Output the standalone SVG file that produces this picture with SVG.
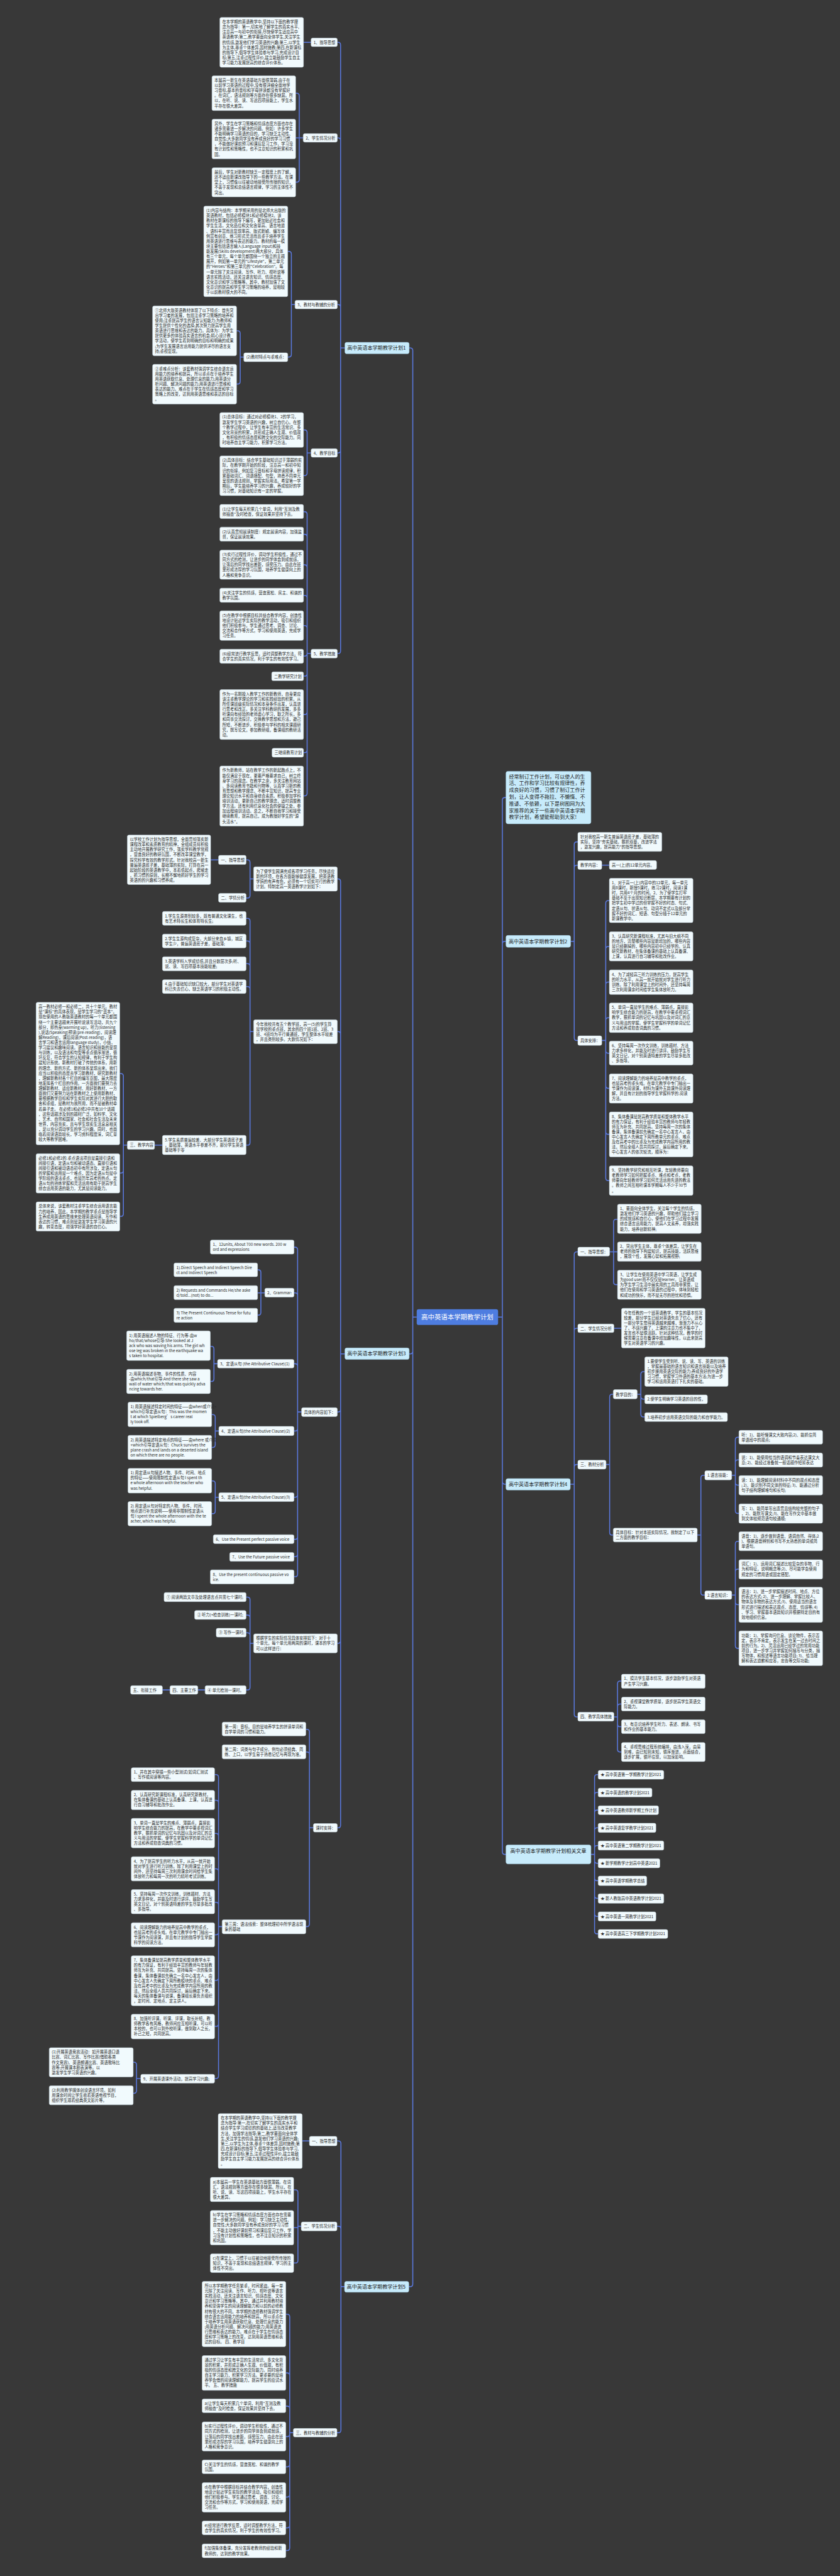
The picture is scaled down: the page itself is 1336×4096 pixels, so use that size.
<svg xmlns="http://www.w3.org/2000/svg" width="1336" height="4096" viewBox="0 0 1336 4096">
<style>
.bx{fill:#f1fafd;stroke:#c4d5df;stroke-width:1}
.mn{fill:#c7ebfb;stroke:#a6d3ea;stroke-width:1}
.ct{fill:#4e7de0}
.t{font-family:"Noto Sans CJK SC","Noto Sans",sans-serif;font-size:12px;fill:#2b2b2b}
.tm{font-family:"Noto Sans CJK SC","Noto Sans",sans-serif;font-size:15.5px;fill:#222}
.tc{font-family:"Noto Sans CJK SC","Noto Sans",sans-serif;font-size:20px;fill:#fff}
.ln{fill:none;stroke:#5a78dc;stroke-width:3}
</style>
<rect width="1336" height="4096" fill="#383838"/>
<g transform="scale(0.521875)">
<g id="connectors" class="ln">
<path d="M1270 4013H1258V1068Q1258 1060 1250 1060H1247M1270 4013H1258V4117Q1258 4125 1250 4125H1247M1270 4013H1258V6959Q1258 6967 1250 6967H1246"/>
<path d="M1518 4013H1531V2438Q1531 2430 1539 2430H1542M1518 4013H1531V2876Q1531 2868 1539 2868H1542M1518 4013H1531V4514Q1531 4522 1539 4522H1542M1518 4013H1531V5642Q1531 5650 1539 5650H1542"/>
<path d="M1051 1060H1038V137Q1038 129 1030 129H1028M1051 1060H1038V428Q1038 420 1030 420H1028M1051 1060H1038V936Q1038 928 1030 928H1028M1051 1060H1038V1372Q1038 1380 1030 1380H1028M1051 1060H1038V1983Q1038 1991 1030 1991H1028"/>
<path d="M948 129H925"/>
<path d="M924 420H912V292Q912 284 904 284H901M924 420H901M924 420H912V547Q912 555 904 555H901"/>
<path d="M899 928H888V774Q888 766 880 766H877M899 928H888V1080Q888 1088 880 1088H877"/>
<path d="M743 1088H732V1016Q732 1008 724 1008H721M743 1088H732V1162Q732 1170 724 1170H721"/>
<path d="M948 1380H936V1318Q936 1310 928 1310H925M948 1380H936V1441Q936 1449 928 1449H925"/>
<path d="M948 1991H936V1567Q936 1559 928 1559H925M948 1991H936V1636Q936 1628 928 1628H925M948 1991H936V1729Q936 1721 928 1721H925M948 1991H936V1822Q936 1814 928 1814H925M948 1991H936V1914Q936 1906 928 1906H925M948 1991H936V1991Q936 1999 928 1999H925M948 1991H936V2052Q936 2060 928 2060H925M948 1991H936V2169Q936 2177 928 2177H925M948 1991H936V2285Q936 2293 928 2293H925M948 1991H936V2417Q936 2425 928 2425H925"/>
<path d="M1051 4125H1038V2686Q1038 2678 1030 2678H1028M1051 4125H1038V3151Q1038 3143 1030 3143H1028M1051 4125H1038V4294Q1038 4302 1030 4302H1028M1051 4125H1038V4999Q1038 5007 1030 5007H1028M1051 4125H1038V5561Q1038 5569 1030 5569H1028"/>
<path d="M773 2678H762V2628Q762 2620 754 2620H750M773 2678H762V2728Q762 2736 754 2736H750"/>
<path d="M666 2620H642"/>
<path d="M773 3143H762V2806Q762 2798 754 2798H750M773 3143H762V2875Q762 2867 754 2867H750M773 3143H762V2944Q762 2936 754 2936H750M773 3143H762V3014Q762 3006 754 3006H750M773 3143H762V3481Q762 3489 754 3489H750"/>
<path d="M495 3489H471"/>
<path d="M388 3489H376V3279Q376 3271 368 3271H365M388 3489H376V3566Q376 3574 368 3574H365M388 3489H376V3698Q376 3706 368 3706H365"/>
<path d="M919 4302H907V3808Q907 3800 899 3800H896M919 4302H907V3947Q907 3939 899 3939H896M919 4302H907V4163Q907 4155 899 4155H896M919 4302H907V4352Q907 4360 899 4360H896M919 4302H907V4554Q907 4562 899 4562H896M919 4302H907V4682Q907 4690 899 4690H896M919 4302H907V4735Q907 4743 899 4743H896M919 4302H907V4796Q907 4804 899 4804H896"/>
<path d="M807 3939H795V3877Q795 3869 787 3869H785M807 3939H785M807 3939H795V3999Q795 4007 787 4007H785"/>
<path d="M663 4155H652V4110Q652 4102 644 4102H641M663 4155H652V4201Q652 4209 644 4209H641"/>
<path d="M667 4360H656V4318Q656 4310 648 4310H645M667 4360H656V4402Q656 4410 648 4410H645"/>
<path d="M667 4562H656V4520Q656 4512 648 4512H645M667 4562H656V4604Q656 4612 648 4612H645"/>
<path d="M773 5007H762V4874Q762 4866 754 4866H750M773 5007H762V4929Q762 4921 754 4921H750M773 5007H762V4983Q762 4975 754 4975H750M773 5007H762V5141Q762 5149 754 5149H750"/>
<path d="M625 5149H603M518 5149H495"/>
<path d="M955 5569H943V5277Q943 5269 935 5269H932M955 5569H943V5346Q943 5338 935 5338H932M955 5569H943V5862Q943 5870 935 5870H932"/>
<path d="M677 5870H666V5415Q666 5407 658 5407H654M677 5870H666V5493Q666 5485 658 5485H654M677 5870H666V5594Q666 5586 658 5586H654M677 5870H666V5702Q666 5694 658 5694H654M677 5870H666V5804Q666 5796 658 5796H654M677 5870H666V5887Q666 5895 658 5895H654M677 5870H666V6026Q666 6034 658 6034H654M677 5870H666V6166Q666 6174 658 6174H654M677 5870H666V6325Q666 6333 658 6333H654"/>
<path d="M429 6333H416V6291Q416 6283 408 6283H406M429 6333H416V6370Q416 6378 408 6378H406"/>
<path d="M1050 6967H1039V6531Q1039 6523 1031 6523H1027M1050 6967H1039V6791Q1039 6783 1031 6783H1027M1050 6967H1039V7404Q1039 7412 1031 7412H1027"/>
<path d="M943 6523H921"/>
<path d="M918 6783H908V6680Q908 6672 900 6672H895M918 6783H908V6787H895M918 6783H908V6887Q908 6895 900 6895H895"/>
<path d="M894 7412H883V7059Q883 7051 875 7051H871M894 7412H883V7238Q883 7230 875 7230H871M894 7412H883V7339Q883 7331 875 7331H871M894 7412H883V7416Q883 7424 875 7424H871M894 7412H883V7508Q883 7516 875 7516H871M894 7412H883V7600Q883 7608 875 7608H871M894 7412H883V7694Q883 7702 875 7702H871M894 7412H883V7763Q883 7771 875 7771H871"/>
<path d="M1739 2868H1750V2573Q1750 2565 1758 2565H1761M1739 2868H1750V2644Q1750 2636 1758 2636H1761M1739 2868H1750V3162Q1750 3170 1758 3170H1761"/>
<path d="M1834 2636H1857"/>
<path d="M1834 3170H1846V2752Q1846 2744 1854 2744H1857M1834 3170H1846V2892Q1846 2884 1854 2884H1857M1834 3170H1846V3000Q1846 2992 1854 2992H1857M1834 3170H1846V3109Q1846 3101 1854 3101H1857M1834 3170H1846V3201Q1846 3209 1854 3209H1857M1834 3170H1846V3308Q1846 3316 1854 3316H1857M1834 3170H1846V3448Q1846 3456 1854 3456H1857M1834 3170H1846V3589Q1846 3597 1854 3597H1857"/>
<path d="M1738 4522H1750V3822Q1750 3814 1758 3814H1761M1738 4522H1750V4055Q1750 4047 1758 4047H1761M1738 4522H1750V4470Q1750 4462 1758 4462H1761M1738 4522H1750V5223Q1750 5231 1758 5231H1761"/>
<path d="M1858 3814H1870V3723Q1870 3715 1878 3715H1882M1858 3814H1882M1858 3814H1870V3906Q1870 3914 1878 3914H1882"/>
<path d="M1871 4047H1894"/>
<path d="M1847 4462H1858V4256Q1858 4248 1866 4248H1869M1847 4462H1858V4669Q1858 4677 1866 4677H1869"/>
<path d="M1942 4248H1953V4187Q1953 4179 1961 4179H1965M1942 4248H1953V4255Q1953 4263 1961 4263H1965M1942 4248H1953V4309Q1953 4317 1961 4317H1965"/>
<path d="M2125 4677H2136V4503Q2136 4495 2144 4495H2148M2125 4677H2136V4852Q2136 4860 2144 4860H2148"/>
<path d="M2230 4495H2241V4387Q2241 4379 2249 4379H2252M2230 4495H2241V4456Q2241 4448 2249 4448H2252M2230 4495H2241V4517Q2241 4525 2249 4525H2252M2230 4495H2241V4603Q2241 4611 2249 4611H2252"/>
<path d="M2230 4860H2241V4704Q2241 4696 2249 4696H2252M2230 4860H2241V4789Q2241 4781 2249 4781H2252M2230 4860H2241V4881Q2241 4889 2249 4889H2252M2230 4860H2241V5014Q2241 5022 2249 5022H2252"/>
<path d="M1871 5231H1882V5130Q1882 5122 1890 5122H1894M1871 5231H1882V5200Q1882 5192 1890 5192H1894M1871 5231H1882V5253Q1882 5261 1890 5261H1894M1871 5231H1882V5330Q1882 5338 1890 5338H1894"/>
<path d="M1801 5650H1812V5415Q1812 5407 1820 5407H1823M1801 5650H1812V5469Q1812 5461 1820 5461H1823M1801 5650H1812V5523Q1812 5515 1820 5515H1823M1801 5650H1812V5577Q1812 5569 1820 5569H1823M1801 5650H1812V5631Q1812 5623 1820 5623H1823M1801 5650H1812V5669Q1812 5677 1820 5677H1823M1801 5650H1812V5722Q1812 5730 1820 5730H1823M1801 5650H1812V5776Q1812 5784 1820 5784H1823M1801 5650H1812V5831Q1812 5839 1820 5839H1823M1801 5650H1812V5884Q1812 5892 1820 5892H1823"/>
</g>

<g id="center"><rect class="ct" x="1270" y="3989" width="248" height="48" rx="6"/><text class="tc" x="1284" y="4020">高中英语本学期教学计划</text></g>

<g id="intro"><rect class="mn" x="1542" y="2350" width="259" height="160" rx="6"/><text class="tm" x="1551" y="2371.5"><tspan x="1551">经常制订工作计划，可以使人的生</tspan><tspan x="1551" dy="20.7">活、工作和学习比较有规律性，养</tspan><tspan x="1551" dy="20.7">成良好的习惯，习惯了制订工作计</tspan><tspan x="1551" dy="20.7">划，让人变得不拖拉、不懒惰、不</tspan><tspan x="1551" dy="20.7">推诿、不依赖，以下是树图网为大</tspan><tspan x="1551" dy="20.7">家推荐的关于一些高中英语本学期</tspan><tspan x="1551" dy="20.7">教学计划，希望能帮助到大家!</tspan></text></g>

<!-- plan 1 -->
<g id="plan1"><rect class="mn" x="1051" y="1043" width="196" height="35" rx="6"/><text class="tm" x="1058" y="1066">高中英语本学期教学计划1</text></g>
<g id="p1-l1"><rect class="bx" x="948" y="116" width="80" height="26" rx="5"/><text class="t" x="955.5" y="134">1、指导思想</text></g>
<g id="p1-b1"><rect class="bx" x="670" y="53" width="255" height="152" rx="5"/><text class="t" y="71"><tspan x="677.5">在本学期的英语教学中,坚持以下面的教学理</tspan><tspan x="677.5" dy="15.55">念为指导：第一,切实地了解学生的真实水平,</tspan><tspan x="677.5" dy="15.55">注意高一与初中的衔接,尽快使学生适应高中</tspan><tspan x="677.5" dy="15.55">英语教学;第二,教学要面向全体学生,关注学生</tspan><tspan x="677.5" dy="15.55">的情感,激发他们学习英语的兴趣;第三,以学生</tspan><tspan x="677.5" dy="15.55">为主体,尊重个体差异,因材施教;第四,在新课标</tspan><tspan x="677.5" dy="15.55">的指导下,倡导学生体验参与学习,完成设计目</tspan><tspan x="677.5" dy="15.55">标;第五,注重过程性评价,建立能鼓励学生自主</tspan><tspan x="677.5" dy="15.55">学习能力发展提高的综合评价体系。</tspan></text></g>
<g id="p1-l2"><rect class="bx" x="924" y="407" width="104" height="26" rx="5"/><text class="t" x="931.5" y="425">2、学生情况分析</text></g>
<g id="p1-b2a"><rect class="bx" x="646" y="231" width="255" height="106" rx="5"/><text class="t" y="249"><tspan x="653.5">本届高一新生在英语基础方面很薄弱,由于在</tspan><tspan x="653.5" dy="15.55">以前学习英语的过程中,没有很详细全面地学</tspan><tspan x="653.5" dy="15.55">习音标,基本的音标和字母拼读都没有掌握好</tspan><tspan x="653.5" dy="15.55">。在词汇，语法规则等方面存在很多缺漏。所</tspan><tspan x="653.5" dy="15.55">以，在听、说、读、写这四项技能上，学生水</tspan><tspan x="653.5" dy="15.55">平存在很大差异。</tspan></text></g>
<g id="p1-b2b"><rect class="bx" x="646" y="363" width="255" height="121" rx="5"/><text class="t" y="381"><tspan x="653.5">另外，学生在学习策略和情感态度方面也存在</tspan><tspan x="653.5" dy="15.55">诸多需要进一步解决的问题。例如：许多学生</tspan><tspan x="653.5" dy="15.55">不能明确学习英语的目的，学习缺乏主动性、</tspan><tspan x="653.5" dy="15.55">自觉性;大多数同学没有养成良好的学习习惯</tspan><tspan x="653.5" dy="15.55">，不能做好课前预习和课后复习工作，学习没</tspan><tspan x="653.5" dy="15.55">有计划性和策略性，也不注意知识的积累和巩</tspan><tspan x="653.5" dy="15.55">固。</tspan></text></g>
<g id="p1-b2c"><rect class="bx" x="646" y="511" width="255" height="89" rx="5"/><text class="t" y="529"><tspan x="653.5">最后，学生对新教材缺乏一定程度上的了解，</tspan><tspan x="653.5" dy="15.55">还不适应新课改指导下的一些教学方法。在课</tspan><tspan x="653.5" dy="15.55">堂上，习惯像以往被动地接受所传授的知识，</tspan><tspan x="653.5" dy="15.55">不善于发现和总结语言规律，学习的主体性不</tspan><tspan x="653.5" dy="15.55">突出。</tspan></text></g>
<g id="p1-l3"><rect class="bx" x="899" y="915" width="129" height="26" rx="5"/><text class="t" x="906.5" y="933">3、教材与教辅的分析</text></g>
<g id="p1-b3a"><rect class="bx" x="621" y="628" width="256" height="276" rx="5"/><text class="t" y="646"><tspan x="628.5">(1)内容与结构：本学期采用的是北师大出版的</tspan><tspan x="628.5" dy="15.55">英语教材，包括必修模块1和必修模块2。该</tspan><tspan x="628.5" dy="15.55">教材在新课标的指导下编写，更加贴近社会和</tspan><tspan x="628.5" dy="15.55">学生生活，文化品位和文化含量高、语言地道</tspan><tspan x="628.5" dy="15.55">、语料丰富而且复现率高、版式新颖、编写体</tspan><tspan x="628.5" dy="15.55">例富有创意、练习形式灵活而且重于培养学生</tspan><tspan x="628.5" dy="15.55">用英语进行思维与表达的能力。教材的每一模</tspan><tspan x="628.5" dy="15.55">块主要包括语言输入(Language input)和技</tspan><tspan x="628.5" dy="15.55">能发展(Skills development)两大部分，具体</tspan><tspan x="628.5" dy="15.55">有三个单元，每个单元都围绕一个独立的主题</tspan><tspan x="628.5" dy="15.55">展开，例如第一单元的"Lifestyle"，第二单元</tspan><tspan x="628.5" dy="15.55">的"Heroes"和第三单元的"Celebration"。每</tspan><tspan x="628.5" dy="15.55">一单元除了关注阅读、写作、听力、视听说等</tspan><tspan x="628.5" dy="15.55">语言实践活动，还关注语言知识、情感态度、</tspan><tspan x="628.5" dy="15.55">文化意识和学习策略等。其中，教材加强了文</tspan><tspan x="628.5" dy="15.55">化意识的提高和学生学习策略的培养，是相较</tspan><tspan x="628.5" dy="15.55">于以前教材很大的不同。</tspan></text></g>
<g id="p1-l3b"><rect class="bx" x="743" y="1075" width="134" height="27" rx="5"/><text class="t" x="750.5" y="1093">(2)教材特点与重难点：</text></g>
<g id="p1-b3b"><rect class="bx" x="465" y="932" width="256" height="152" rx="5"/><text class="t" y="950"><tspan x="472.5">①北师大版英语教材体现了以下特点：首先突</tspan><tspan x="472.5" dy="15.55">出学习者的发展，包括注重学习策略的培养和</tspan><tspan x="472.5" dy="15.55">使用;注重提高学生的语言认知能力;为教师和</tspan><tspan x="472.5" dy="15.55">学生提供个性化的选择;其次努力提高学生用</tspan><tspan x="472.5" dy="15.55">英语进行思维和表达的能力。具体为：为学生</tspan><tspan x="472.5" dy="15.55">提供更多的体验真实语言的机会;精心设计教</tspan><tspan x="472.5" dy="15.55">学活动，使学生看到明确的目标和明确的成果</tspan><tspan x="472.5" dy="15.55">;为学生发展语言运用能力提供详尽的语言支</tspan><tspan x="472.5" dy="15.55">持;重视复现。</tspan></text></g>
<g id="p1-b3c"><rect class="bx" x="465" y="1110" width="256" height="121" rx="5"/><text class="t" y="1128"><tspan x="472.5">②重难点分析：该套教材强调学生综合语言运</tspan><tspan x="472.5" dy="15.55">用能力的培养和提高，所以重点在于培养学生</tspan><tspan x="472.5" dy="15.55">用英语获取信息、处理信息的能力;用英语分</tspan><tspan x="472.5" dy="15.55">析问题、解决问题的能力;用英语进行思维和</tspan><tspan x="472.5" dy="15.55">表达的能力。难点在于学生在情感态度和学习</tspan><tspan x="472.5" dy="15.55">策略上的改变，达到用英语思维和表达的目标</tspan><tspan x="472.5" dy="15.55">。</tspan></text></g>
<g id="p1-l4"><rect class="bx" x="948" y="1367" width="80" height="26" rx="5"/><text class="t" x="955.5" y="1385">4、教学目标</text></g>
<g id="p1-b4a"><rect class="bx" x="670" y="1257" width="255" height="106" rx="5"/><text class="t" y="1275"><tspan x="677.5">(1)总体目标：通过对必修模块1、2的学习，</tspan><tspan x="677.5" dy="15.55">激发学生学习英语的兴趣，树立自信心。在整</tspan><tspan x="677.5" dy="15.55">个教学过程中，让学生有丰富的生活常识、多</tspan><tspan x="677.5" dy="15.55">文化背景的积累，并形成正确人生观、价值观</tspan><tspan x="677.5" dy="15.55">，有积极的情感态度和跨文化的交际能力。同</tspan><tspan x="677.5" dy="15.55">时培养自主学习能力，积累学习方法。</tspan></text></g>
<g id="p1-b4b"><rect class="bx" x="670" y="1389" width="255" height="121" rx="5"/><text class="t" y="1407"><tspan x="677.5">(2)具体目标：结合学生基础知识过于薄弱的实</tspan><tspan x="677.5" dy="15.55">际，在教学刚开始的阶段，注意高一和初中知</tspan><tspan x="677.5" dy="15.55">识的衔接，例如复习音标和字母拼读规律，积</tspan><tspan x="677.5" dy="15.55">累基础词汇、词语搭配、句型，熟悉不同单元</tspan><tspan x="677.5" dy="15.55">呈现的语法规则，掌握实际用法。希望第一学</tspan><tspan x="677.5" dy="15.55">期后，学生能培养学习的兴趣，养成较好的学</tspan><tspan x="677.5" dy="15.55">习习惯，对基础知识有一定的掌握。</tspan></text></g>
<g id="p1-l5"><rect class="bx" x="948" y="1978" width="80" height="27" rx="5"/><text class="t" x="955.5" y="1996">5、教学措施</text></g>
<g id="p1-b5a"><rect class="bx" x="670" y="1537" width="255" height="43" rx="5"/><text class="t" y="1555"><tspan x="677.5">(1)让学生每天积累几个单词，利用"互测及教</tspan><tspan x="677.5" dy="15.55">师抽查"及时检查，保证效果并坚持下去。</tspan></text></g>
<g id="p1-b5b"><rect class="bx" x="670" y="1606" width="255" height="43" rx="5"/><text class="t" y="1624"><tspan x="677.5">(2)认真贯彻晨读制度：规定晨读内容，加强监</tspan><tspan x="677.5" dy="15.55">督，保证晨读效果。</tspan></text></g>
<g id="p1-b5c"><rect class="bx" x="670" y="1676" width="255" height="89" rx="5"/><text class="t" y="1694"><tspan x="677.5">(3)实行过程性评价，调动学生积极性，通过不</tspan><tspan x="677.5" dy="15.55">同方式的检测，让进步的同学体会到成就感，</tspan><tspan x="677.5" dy="15.55">让落后的同学找出差距，感受压力。由此在班</tspan><tspan x="677.5" dy="15.55">里形成浓厚的学习氛围，培养学生健康向上的</tspan><tspan x="677.5" dy="15.55">人格和竞争意识。</tspan></text></g>
<g id="p1-b5d"><rect class="bx" x="670" y="1792" width="255" height="43" rx="5"/><text class="t" y="1810"><tspan x="677.5">(4)关注学生的情感，营造宽松、民主、和谐的</tspan><tspan x="677.5" dy="15.55">教学氛围。</tspan></text></g>
<g id="p1-b5e"><rect class="bx" x="670" y="1861" width="255" height="90" rx="5"/><text class="t" y="1879"><tspan x="677.5">(5)在教学中根据目标并结合教学内容，创造性</tspan><tspan x="677.5" dy="15.55">地设计贴近学生实际的教学活动，吸引和组织</tspan><tspan x="677.5" dy="15.55">他们积极参与。学生通过思考、调查、讨论、</tspan><tspan x="677.5" dy="15.55">交流和合作等方式，学习和使用英语，完成学</tspan><tspan x="677.5" dy="15.55">习任务。</tspan></text></g>
<g id="p1-b5f"><rect class="bx" x="670" y="1978" width="255" height="43" rx="5"/><text class="t" y="1996"><tspan x="677.5">(6)经常进行教学反思，适时调整教学方法，符</tspan><tspan x="677.5" dy="15.55">合学生的真实情况，利于学生的有效性学习。</tspan></text></g>
<g id="p1-l5g"><rect class="bx" x="828" y="2047" width="97" height="27" rx="5"/><text class="t" x="835.5" y="2065">二教学研究计划</text></g>
<g id="p1-b5h"><rect class="bx" x="670" y="2101" width="255" height="152" rx="5"/><text class="t" y="2119"><tspan x="677.5">作为一名刚投入教学工作的新教师，自身更应</tspan><tspan x="677.5" dy="15.55">该注重教学理论的学习和实践经验的积累。从</tspan><tspan x="677.5" dy="15.55">所任课班级实际情况和本身条件出发，认真进</tspan><tspan x="677.5" dy="15.55">行思考和改正。多关注学科教研的发展，多多</tspan><tspan x="677.5" dy="15.55">听课向有经验的老师虚心学习，取之所长，多</tspan><tspan x="677.5" dy="15.55">和同事交流探讨，交换教学思想和方法，避己</tspan><tspan x="677.5" dy="15.55">所短，不断进步。积极参与学科的相关课题研</tspan><tspan x="677.5" dy="15.55">究，撰写论文，参加教研组，备课组的教研活</tspan><tspan x="677.5" dy="15.55">动。</tspan></text></g>
<g id="p1-l5i"><rect class="bx" x="829" y="2280" width="96" height="27" rx="5"/><text class="t" x="836.5" y="2298">三继续教育计划</text></g>
<g id="p1-b5j"><rect class="bx" x="670" y="2334" width="255" height="183" rx="5"/><text class="t" y="2352"><tspan x="677.5">作为新教师，站在教学工作的新起跑点上，不</tspan><tspan x="677.5" dy="15.55">能仅满足于现在，更要严格要求自己，树立终</tspan><tspan x="677.5" dy="15.55">身学习的观念。在教学之余，多关注教育网站</tspan><tspan x="677.5" dy="15.55">、多阅读教育书籍和刊物等，认真学习新的教</tspan><tspan x="677.5" dy="15.55">育思想和教学理念，不断丰富知识，提高专业</tspan><tspan x="677.5" dy="15.55">理论知识水平和自身综合素质。积极参加学科</tspan><tspan x="677.5" dy="15.55">培训活动，更新自己的教学理念，适时调整教</tspan><tspan x="677.5" dy="15.55">学方法。还有利用信息化社会的便捷之处，参</tspan><tspan x="677.5" dy="15.55">加远程培训活动。总之，不断自我学习和接受</tspan><tspan x="677.5" dy="15.55">继续教育，提高自己，成为教授好学生的"源</tspan><tspan x="677.5" dy="15.55">头活水"。</tspan></text></g>

<!-- plan 3 -->
<g id="plan3"><rect class="mn" x="1051" y="4107" width="196" height="35" rx="6"/><text class="tm" x="1058" y="4130">高中英语本学期教学计划3</text></g>
<g id="p3-a"><rect class="bx" x="773" y="2641" width="255" height="74" rx="5"/><text class="t" y="2659"><tspan x="780.5">为了使学生圆满完成各项学习任务，尽快适应</tspan><tspan x="780.5" dy="15.55">新的环境，在各方面能够健康发展，把英语教</tspan><tspan x="780.5" dy="15.55">学搞的有声有色，必须有一个切实可行的教学</tspan><tspan x="780.5" dy="15.55">计划。特制定高一英语教学计划如下：</tspan></text></g>
<g id="p3-a1"><rect class="bx" x="666" y="2606" width="84" height="28" rx="5"/><text class="t" x="673.5" y="2625">一、指导思想</text></g>
<g id="p3-a1b"><rect class="bx" x="388" y="2544" width="254" height="151" rx="5"/><text class="t" y="2562"><tspan x="395.5">以学校工作计划为指导思想，全面贯彻落实新</tspan><tspan x="395.5" dy="15.55">课程改革和素质教育的精神，全组成员将积极</tspan><tspan x="395.5" dy="15.55">主动地开展教学研究工作，落实学科教学常规</tspan><tspan x="395.5" dy="15.55">，营造良好的教研氛围，不断改革课堂教学，</tspan><tspan x="395.5" dy="15.55">探究科学有效的教学形式。针对我校高一新生</tspan><tspan x="395.5" dy="15.55">普遍英语底子差，基础薄的实际，打算在高一</tspan><tspan x="395.5" dy="15.55">起始阶段的英语教学中，本着低起点，爬坡走</tspan><tspan x="395.5" dy="15.55">，抓习惯的原则，长期不懈地抓好学生的学习</tspan><tspan x="395.5" dy="15.55">英语的的兴趣和习惯养成。</tspan></text></g>
<g id="p3-a2"><rect class="bx" x="666" y="2722" width="84" height="27" rx="5"/><text class="t" x="673.5" y="2740">二、学情分析</text></g>
<g id="p3-b"><rect class="bx" x="773" y="3107" width="255" height="73" rx="5"/><text class="t" y="3125"><tspan x="780.5">今年我校共有五个教学班，高一(5)的学生算</tspan><tspan x="780.5" dy="15.55">是学校的重点班，其余的四个班1班、2班、3</tspan><tspan x="780.5" dy="15.55">班、4班均为平行普通班，学生整体水平较差</tspan><tspan x="780.5" dy="15.55">，并且类别较多。大数情况如下：</tspan></text></g>
<g id="p3-b1"><rect class="bx" x="495" y="2777" width="255" height="42" rx="5"/><text class="t" y="2795"><tspan x="502.5">1.学生生源类别较多，既有普通文化课生，也</tspan><tspan x="502.5" dy="15.55">有艺术特长生和体育特长生;</tspan></text></g>
<g id="p3-b2"><rect class="bx" x="495" y="2846" width="255" height="42" rx="5"/><text class="t" y="2864"><tspan x="502.5">2.学生生源构成复杂，大部分来自乡镇，城区</tspan><tspan x="502.5" dy="15.55">学生少，普遍英语底子差，基础薄;</tspan></text></g>
<g id="p3-b3"><rect class="bx" x="495" y="2915" width="255" height="43" rx="5"/><text class="t" y="2933"><tspan x="502.5">3.英语学科入学成绩低,并且分数层次多;听、</tspan><tspan x="502.5" dy="15.55">说、读、写四项基本技能较差;</tspan></text></g>
<g id="p3-b4"><rect class="bx" x="495" y="2985" width="255" height="42" rx="5"/><text class="t" y="3003"><tspan x="502.5">4.由于基础知识缺口较大，部分学生对英语学</tspan><tspan x="502.5" dy="15.55">科已失去信心，缺乏英语学习的积极主动性。</tspan></text></g>
<g id="p3-b5"><rect class="bx" x="495" y="3459" width="255" height="59" rx="5"/><text class="t" y="3477"><tspan x="502.5">5.学生素质普遍较差、大部分学生英语底子差</tspan><tspan x="502.5" dy="15.55">，基础薄，英语水平参差不齐，部分学生英语</tspan><tspan x="502.5" dy="15.55">基础等于零</tspan></text></g>
<g id="p3-b5l"><rect class="bx" x="388" y="3476" width="83" height="26" rx="5"/><text class="t" x="395.5" y="3494">三、教学内容</text></g>
<g id="p3-c1"><rect class="bx" x="110" y="3054" width="255" height="434" rx="5"/><text class="t" y="3072"><tspan x="117.5">高一教材必修一和必修二，共十个单元。教材</tspan><tspan x="117.5" dy="15.55">是"课标"的具体表现，是学生学习的"蓝本"。</tspan><tspan x="117.5" dy="15.55">现在使用的人教版英语教材的每一个单元都围</tspan><tspan x="117.5" dy="15.55">绕一个主要话题来开展听说读写活动，共九个</tspan><tspan x="117.5" dy="15.55">部分，即热身(warming up)，听力(listening</tspan><tspan x="117.5" dy="15.55">),说话(Speaking)预读(pre-reading)，阅读理</tspan><tspan x="117.5" dy="15.55">解Reading)，课后阅读(Post-reading)，语</tspan><tspan x="117.5" dy="15.55">言学习和语言运用language study)，小结，</tspan><tspan x="117.5" dy="15.55">学习建议和趣味阅读。语言知识和技能的呈现</tspan><tspan x="117.5" dy="15.55">与训练，以及语法和句型等重点循序渐进，循</tspan><tspan x="117.5" dy="15.55">环反复，符合学生的认知规律，有利于学生构</tspan><tspan x="117.5" dy="15.55">建知识系统。新教材打破了传统的体系，用新</tspan><tspan x="117.5" dy="15.55">的理念、新的方式、新的体系呈现出来。我们</tspan><tspan x="117.5" dy="15.55">应当以积极的态度去学习新教材，研究新教材</tspan><tspan x="117.5" dy="15.55">，理解新教材各个栏目的编写意图，最大限度</tspan><tspan x="117.5" dy="15.55">地发挥各个栏目的作用。一方面我们要努力去</tspan><tspan x="117.5" dy="15.55">理解新教材、适应新教材、用好新教材，一方</tspan><tspan x="117.5" dy="15.55">面我们又要努力站在新教材之上使用新教材，</tspan><tspan x="117.5" dy="15.55">要根据教学目标和学生实际对其进行大胆的取</tspan><tspan x="117.5" dy="15.55">舍和重组，是教材为我所用，而不是被教材牵</tspan><tspan x="117.5" dy="15.55">着鼻子走。 在必修1和必修2中共有10个话题</tspan><tspan x="117.5" dy="15.55">，这些话题涉及到的题材广泛，如科学、文化</tspan><tspan x="117.5" dy="15.55">、艺术、自然和国家、社会和社会生活及未来</tspan><tspan x="117.5" dy="15.55">世界，内容充实，且与学生现实生活息息相关</tspan><tspan x="117.5" dy="15.55">，足以充分调动学生的学习兴趣。同时，也面</tspan><tspan x="117.5" dy="15.55">临着阅读语篇较长，学习资料程度深，词汇量</tspan><tspan x="117.5" dy="15.55">较大等教学困难。</tspan></text></g>
<g id="p3-c2"><rect class="bx" x="110" y="3515" width="255" height="120" rx="5"/><text class="t" y="3533"><tspan x="117.5">必修1和必修2的.重点语法项目是直接引语和</tspan><tspan x="117.5" dy="15.55">间接引语，定语从句和被动语态。直接引语和</tspan><tspan x="117.5" dy="15.55">间接引语和被动语态初中有所涉及，定语从句</tspan><tspan x="117.5" dy="15.55">的掌握和运用是一个难点，因为定语从句是中</tspan><tspan x="117.5" dy="15.55">学阶段的语法重点，也是历年高考的热点。定</tspan><tspan x="117.5" dy="15.55">语从句的熟练掌握和灵活运用有助于提高学生</tspan><tspan x="117.5" dy="15.55">综合运用英语的能力，尤其是阅读能力。</tspan></text></g>
<g id="p3-c3"><rect class="bx" x="110" y="3662" width="255" height="89" rx="5"/><text class="t" y="3680"><tspan x="117.5">总体来说，该套教材注重学生综合运用语言能</tspan><tspan x="117.5" dy="15.55">力的培养，因此，本学期的教学重点是指导学</tspan><tspan x="117.5" dy="15.55">生养成用英语的思维来处理英语阅读、写作和</tspan><tspan x="117.5" dy="15.55">表达的习惯，难点则是激发学生学习英语的兴</tspan><tspan x="117.5" dy="15.55">趣，转变态度，增强学好英语的自信心。</tspan></text></g>
<g id="p3-d"><rect class="bx" x="919" y="4289" width="109" height="27" rx="5"/><text class="t" x="926.5" y="4307">具体的内容如下：</text></g>
<g id="p3-d1"><rect class="bx" x="641" y="3778" width="255" height="43" rx="5"/><text class="t" y="3796"><tspan x="648.5">1、12units, About 700 new words. 200 w</tspan><tspan x="648.5" dy="15.55">ord and expressions</tspan></text></g>
<g id="p3-d2"><rect class="bx" x="807" y="3925" width="89" height="27" rx="5"/><text class="t" x="814.5" y="3943">2、Grammar:</text></g>
<g id="p3-d2a"><rect class="bx" x="530" y="3848" width="255" height="42" rx="5"/><text class="t" y="3866"><tspan x="537.5">1).Direct Speech and Indirect Speech Dire</tspan><tspan x="537.5" dy="15.55">ct and Indirect Speech</tspan></text></g>
<g id="p3-d2b"><rect class="bx" x="530" y="3917" width="255" height="43" rx="5"/><text class="t" y="3935"><tspan x="537.5">2) Requests and Commands He/she aske</tspan><tspan x="537.5" dy="15.55">d/told...(not) to do...</tspan></text></g>
<g id="p3-d2c"><rect class="bx" x="530" y="3986" width="255" height="43" rx="5"/><text class="t" y="4004"><tspan x="537.5">3) The Present Continuous Tense for futu</tspan><tspan x="537.5" dy="15.55">re action</tspan></text></g>
<g id="p3-d3"><rect class="bx" x="663" y="4142" width="233" height="26" rx="5"/><text class="t" x="670.5" y="4160">3、定语从句 (the Attributive Clause)(1)</text></g>
<g id="p3-d3a"><rect class="bx" x="386" y="4055" width="255" height="90" rx="5"/><text class="t" y="4073"><tspan x="393.5">1) 用英语描述人物的特征、行为等-由w</tspan><tspan x="393.5" dy="15.55">ho/that/whose引导:She looked at J</tspan><tspan x="393.5" dy="15.55">ack who was waving his arms. The girl wh</tspan><tspan x="393.5" dy="15.55">ose leg was broken in the earthquake wa</tspan><tspan x="393.5" dy="15.55">s taken to hospital.</tspan></text></g>
<g id="p3-d3b"><rect class="bx" x="386" y="4172" width="255" height="74" rx="5"/><text class="t" y="4190"><tspan x="393.5">2) 用英语描述事物、事件的性质、内容</tspan><tspan x="393.5" dy="15.55">-由which/that引导:And there she saw a</tspan><tspan x="393.5" dy="15.55">wall of water which/that was quickly adva</tspan><tspan x="393.5" dy="15.55">ncing towards her.</tspan></text></g>
<g id="p3-d4"><rect class="bx" x="667" y="4346" width="229" height="28" rx="5"/><text class="t" x="674.5" y="4365">4、定语从句(the Attributive Clause)(2)</text></g>
<g id="p3-d4a"><rect class="bx" x="390" y="4272" width="255" height="75" rx="5"/><text class="t" y="4290"><tspan x="397.5">1) 用英语描述特定时间的特征——由when或介词+</tspan><tspan x="397.5" dy="15.55">which引导定语从句：This was the momen</tspan><tspan x="397.5" dy="15.55">t at which Spielberg’s career real</tspan><tspan x="397.5" dy="15.55">ly took off.</tspan></text></g>
<g id="p3-d4b"><rect class="bx" x="390" y="4373" width="255" height="74" rx="5"/><text class="t" y="4391"><tspan x="397.5">2) 用英语描述特定地点的特征——由where 或介词</tspan><tspan x="397.5" dy="15.55">+which引导定语从句：Chuck survives the</tspan><tspan x="397.5" dy="15.55">plane crash and lands on a deserted island</tspan><tspan x="397.5" dy="15.55">on which there are no people.</tspan></text></g>
<g id="p3-d5"><rect class="bx" x="667" y="4548" width="229" height="27" rx="5"/><text class="t" x="674.5" y="4566">5、定语从句(the Attributive Clause)(3)</text></g>
<g id="p3-d5a"><rect class="bx" x="390" y="4474" width="255" height="75" rx="5"/><text class="t" y="4492"><tspan x="397.5">1) 用定语从句描述人物、事件、时间、地点</tspan><tspan x="397.5" dy="15.55">的特征——使用限制性定语从句 I spent th</tspan><tspan x="397.5" dy="15.55">e whole afternoon with the teacher who</tspan><tspan x="397.5" dy="15.55">was helpful.</tspan></text></g>
<g id="p3-d5b"><rect class="bx" x="390" y="4575" width="255" height="74" rx="5"/><text class="t" y="4593"><tspan x="397.5">2) 用定语从句对特定的人物、事件、时间、</tspan><tspan x="397.5" dy="15.55">地点进行补充说明——使用非限制性定语从</tspan><tspan x="397.5" dy="15.55">句 I spent the whole afternoon with the te</tspan><tspan x="397.5" dy="15.55">acher, which was helpful.</tspan></text></g>
<g id="p3-d6"><rect class="bx" x="650" y="4676" width="246" height="27" rx="5"/><text class="t" x="657.5" y="4694">6、Use the Present perfect passive voice</text></g>
<g id="p3-d7"><rect class="bx" x="700" y="4730" width="196" height="27" rx="5"/><text class="t" x="707.5" y="4748">7、Use the Future passive voice</text></g>
<g id="p3-d8"><rect class="bx" x="641" y="4783" width="255" height="43" rx="5"/><text class="t" y="4801"><tspan x="648.5">8、Use the present continuous passive vo</tspan><tspan x="648.5" dy="15.55">ice.</tspan></text></g>
<g id="p3-e"><rect class="bx" x="773" y="4978" width="255" height="58" rx="5"/><text class="t" y="4996"><tspan x="780.5">根据学生的实际情况具体安排如下：对于十</tspan><tspan x="780.5" dy="15.55">个单元，每个单元用两周的课时，课本的学习</tspan><tspan x="780.5" dy="15.55">可以这样进行：</tspan></text></g>
<g id="p3-e1"><rect class="bx" x="500" y="4852" width="250" height="28" rx="5"/><text class="t" x="507.5" y="4870">① 阅读两篇文章及处理语言点共需七个课时;</text></g>
<g id="p3-e2"><rect class="bx" x="593" y="4907" width="157" height="27" rx="5"/><text class="t" x="600.5" y="4925">② 听力(+检查训练)一课时;</text></g>
<g id="p3-e3"><rect class="bx" x="659" y="4961" width="91" height="27" rx="5"/><text class="t" x="666.5" y="4979">③ 写作一课时;</text></g>
<g id="p3-e4"><rect class="bx" x="625" y="5136" width="125" height="26" rx="5"/><text class="t" x="632.5" y="5154">④ 单元检测一课时。</text></g>
<g id="p3-e5"><rect class="bx" x="518" y="5136" width="85" height="26" rx="5"/><text class="t" x="525.5" y="5154">四、主要工作</text></g>
<g id="p3-e6"><rect class="bx" x="398" y="5136" width="97" height="26" rx="5"/><text class="t" x="405.5" y="5154">五、衔接工作</text></g>
<g id="p3-f"><rect class="bx" x="955" y="5556" width="73" height="26" rx="5"/><text class="t" x="962.5" y="5574">课时安排：</text></g>
<g id="p3-f1"><rect class="bx" x="677" y="5247" width="255" height="42" rx="5"/><text class="t" y="5265"><tspan x="684.5">第一周：音标。目的是培养学生的拼读单词和</tspan><tspan x="684.5" dy="15.55">自学单词的习惯和能力。</tspan></text></g>
<g id="p3-f2"><rect class="bx" x="677" y="5316" width="255" height="43" rx="5"/><text class="t" y="5334"><tspan x="684.5">第二周：词类与句子成分。例句必须经典、简</tspan><tspan x="684.5" dy="15.55">练、上口，以学生易于熟悉记忆与再现为准。</tspan></text></g>
<g id="p3-f3"><rect class="bx" x="677" y="5849" width="255" height="43" rx="5"/><text class="t" y="5867"><tspan x="684.5">第三周：语法线索：整体梳理初中所学语法现</tspan><tspan x="684.5" dy="15.55">象的基础</tspan></text></g>
<g id="p3-g1"><rect class="bx" x="400" y="5386" width="254" height="42" rx="5"/><text class="t" y="5404"><tspan x="407.5">1、并在其中穿插一些小型测试(如词汇测试</tspan><tspan x="407.5" dy="15.55">、写作或阅读等内容。</tspan></text></g>
<g id="p3-g2"><rect class="bx" x="400" y="5455" width="254" height="59" rx="5"/><text class="t" y="5473"><tspan x="407.5">2、认真研究新课程标准，认真研究新教材，</tspan><tspan x="407.5" dy="15.55">在集体备课的基础上认真备课、上课，认真进</tspan><tspan x="407.5" dy="15.55">行自习辅导和批改作业。</tspan></text></g>
<g id="p3-g3"><rect class="bx" x="400" y="5540" width="254" height="90" rx="5"/><text class="t" y="5558"><tspan x="407.5">3、单词一直是学生的难点、薄弱点，直接影</tspan><tspan x="407.5" dy="15.55">响学生综合能力的提高，在教学中要重视词汇</tspan><tspan x="407.5" dy="15.55">教学，狠抓单词的记忆与巩固以及对词汇的意</tspan><tspan x="407.5" dy="15.55">义与用法的掌握。使学生掌握科学的单词记忆</tspan><tspan x="407.5" dy="15.55">方法和养成勤查词典的习惯。</tspan></text></g>
<g id="p3-g4"><rect class="bx" x="400" y="5657" width="254" height="74" rx="5"/><text class="t" y="5675"><tspan x="407.5">4、为了提高学生的听力水平，从高一就开始</tspan><tspan x="407.5" dy="15.55">就对学生进行听力训练。除了利用课堂上的时</tspan><tspan x="407.5" dy="15.55">间外，还坚持每周三次利用课余时间给学生集</tspan><tspan x="407.5" dy="15.55">体放听力和每周一次的听力精听考试训练。</tspan></text></g>
<g id="p3-g5"><rect class="bx" x="400" y="5757" width="254" height="74" rx="5"/><text class="t" y="5775"><tspan x="407.5">5、坚持每周一次作文训练，训练题材、方法</tspan><tspan x="407.5" dy="15.55">力求多样化，并能及时进行讲评。鼓励学生写</tspan><tspan x="407.5" dy="15.55">英文日记，对个别英语特差的学生尽量多批改</tspan><tspan x="407.5" dy="15.55">、多指导。</tspan></text></g>
<g id="p3-g6"><rect class="bx" x="400" y="5858" width="254" height="74" rx="5"/><text class="t" y="5876"><tspan x="407.5">6、阅读理解能力的培养是高中教学的重点，</tspan><tspan x="407.5" dy="15.55">也是高考的重头戏。在单元教学中专门抽出一</tspan><tspan x="407.5" dy="15.55">节课作为阅读课，并且有计划的指导学生掌握</tspan><tspan x="407.5" dy="15.55">科学的阅读方法。</tspan></text></g>
<g id="p3-g7"><rect class="bx" x="400" y="5959" width="254" height="152" rx="5"/><text class="t" y="5977"><tspan x="407.5">7、集体备课是提高教学质量和整体教学水平</tspan><tspan x="407.5" dy="15.55">的有力保证，有利于经验丰富的教师与年轻教</tspan><tspan x="407.5" dy="15.55">师互为补充、共同提高。坚持每周一次的集体</tspan><tspan x="407.5" dy="15.55">备课，集体备课前先确立一名中心发言人，由</tspan><tspan x="407.5" dy="15.55">中心发言人先确定下周所教模块的重点、难点</tspan><tspan x="407.5" dy="15.55">及在高考中的比重及为完成教学内容所用的教</tspan><tspan x="407.5" dy="15.55">法，然后全组人员共同探讨，最后确定下来。</tspan><tspan x="407.5" dy="15.55">每天的集体备课与说课，备课组长要负责组织</tspan><tspan x="407.5" dy="15.55">，定时间、定地点、定主讲人。</tspan></text></g>
<g id="p3-g8"><rect class="bx" x="400" y="6137" width="254" height="75" rx="5"/><text class="t" y="6155"><tspan x="407.5">8、加强听评课。听课、评课，取长补短。教</tspan><tspan x="407.5" dy="15.55">师教学各有风格，教师间应互相听课，可以听</tspan><tspan x="407.5" dy="15.55">本校的，也可以到外校听课，做到取人之长，</tspan><tspan x="407.5" dy="15.55">补己之短，共同提高。</tspan></text></g>
<g id="p3-g9"><rect class="bx" x="429" y="6320" width="225" height="27" rx="5"/><text class="t" x="436.5" y="6338">9、开展英语课外活动，提高学习兴趣;</text></g>
<g id="p3-g9a"><rect class="bx" x="150" y="6239" width="256" height="89" rx="5"/><text class="t" y="6257"><tspan x="157.5">(1)开展英语竞赛活动：如开展英语口语</tspan><tspan x="157.5" dy="15.55">比赛、词汇比赛、写作比赛(借助各类</tspan><tspan x="157.5" dy="15.55">作文竞赛)、英语朗诵比赛、英语歌咏比</tspan><tspan x="157.5" dy="15.55">赛等;开展课本剧表演等。以</tspan><tspan x="157.5" dy="15.55">激发学生学习英语的兴趣。</tspan></text></g>
<g id="p3-g9b"><rect class="bx" x="150" y="6355" width="256" height="58" rx="5"/><text class="t" y="6373"><tspan x="157.5">(2)利用教学媒体创设语言环境。如利</tspan><tspan x="157.5" dy="15.55">用课余时间让学生收看英语电视节目，</tspan><tspan x="157.5" dy="15.55">组织学生观看经典英文影片等。</tspan></text></g>

<!-- plan 5 -->
<g id="plan5"><rect class="mn" x="1050" y="6951" width="196" height="33" rx="6"/><text class="tm" x="1057" y="6973">高中英语本学期教学计划5</text></g>
<g id="p5-l1"><rect class="bx" x="943" y="6509" width="84" height="29" rx="5"/><text class="t" x="950.5" y="6528">一、指导思想</text></g>
<g id="p5-b1"><rect class="bx" x="665" y="6440" width="256" height="167" rx="5"/><text class="t" y="6458"><tspan x="672.5">在本学期的英语教学中,坚持以下面的教学理</tspan><tspan x="672.5" dy="15.55">念为指导:第一,在切实了解学生的真实水平和</tspan><tspan x="672.5" dy="15.55">结合学生学习成绩的的基础上,适当改变教学</tspan><tspan x="672.5" dy="15.55">方法，加强学法指导;第二,教学要面向全体学</tspan><tspan x="672.5" dy="15.55">生,关注学生的情感,激发他们学习英语的兴趣;</tspan><tspan x="672.5" dy="15.55">第三,以学生为主体,尊重个体差异,因材施教;第</tspan><tspan x="672.5" dy="15.55">四,在新课标的指导下,倡导学生体验参与学习,</tspan><tspan x="672.5" dy="15.55">完成设计目标;第五,注重过程性评价,建立能鼓</tspan><tspan x="672.5" dy="15.55">励学生自主学习能力发展提高的综合评价体系</tspan><tspan x="672.5" dy="15.55">。</tspan></text></g>
<g id="p5-l2"><rect class="bx" x="918" y="6770" width="109" height="27" rx="5"/><text class="t" x="925.5" y="6788">二、学生情况分析</text></g>
<g id="p5-b2a"><rect class="bx" x="641" y="6634" width="254" height="74" rx="5"/><text class="t" y="6652"><tspan x="648.5">a)本届高一学生在英语基础方面很薄弱。在词</tspan><tspan x="648.5" dy="15.55">汇，语法规则等方面存在很多缺漏。所以，在</tspan><tspan x="648.5" dy="15.55">听、说、读、写这四项技能上，学生水平存在</tspan><tspan x="648.5" dy="15.55">很大差异。</tspan></text></g>
<g id="p5-b2b"><rect class="bx" x="641" y="6735" width="254" height="105" rx="5"/><text class="t" y="6753"><tspan x="648.5">b)学生在学习策略和情感态度方面也存在需要</tspan><tspan x="648.5" dy="15.55">进一步解决的问题。例如：学习缺乏主动性、</tspan><tspan x="648.5" dy="15.55">自觉性;大多数同学没有养成良好的学习习惯</tspan><tspan x="648.5" dy="15.55">，不能主动做好课前预习和课后复习工作，学</tspan><tspan x="648.5" dy="15.55">习没有计划性和策略性，也不注意知识的积累</tspan><tspan x="648.5" dy="15.55">和巩固。</tspan></text></g>
<g id="p5-b2c"><rect class="bx" x="641" y="6867" width="254" height="57" rx="5"/><text class="t" y="6885"><tspan x="648.5">c)在课堂上，习惯于以往被动地接受所传授的</tspan><tspan x="648.5" dy="15.55">知识，不善于发现和总结语言规律，学习的主</tspan><tspan x="648.5" dy="15.55">体性不突出。</tspan></text></g>
<g id="p5-l3"><rect class="bx" x="894" y="7399" width="133" height="26" rx="5"/><text class="t" x="901.5" y="7417">三、教材与教辅的分析</text></g>
<g id="p5-b3a"><rect class="bx" x="616" y="6951" width="255" height="199" rx="5"/><text class="t" y="6969"><tspan x="623.5">所以本学期教学任务繁重，时间紧迫。每一单</tspan><tspan x="623.5" dy="15.55">元除了关注阅读、写作、听力、视听说等语言</tspan><tspan x="623.5" dy="15.55">实践活动，还关注语言知识、情感态度、文化</tspan><tspan x="623.5" dy="15.55">意识和学习策略等。其中，通过并利用教材培</tspan><tspan x="623.5" dy="15.55">养和坚强学生的阅读理解能力和以前的必修教</tspan><tspan x="623.5" dy="15.55">材有很大的不同。本学期的选修教材强调学生</tspan><tspan x="623.5" dy="15.55">综合语言运用能力的培养和提高，所以重点在</tspan><tspan x="623.5" dy="15.55">于培养学生用英语获取信息、处理信息的能力</tspan><tspan x="623.5" dy="15.55">;用英语分析问题、解决问题的能力;用英语进</tspan><tspan x="623.5" dy="15.55">行思维和表达的能力。难点在于学生在情感态</tspan><tspan x="623.5" dy="15.55">度和学习策略上的改变，达到用英语思维和表</tspan><tspan x="623.5" dy="15.55">达的目标。 四、教学目</tspan></text></g>
<g id="p5-b3b"><rect class="bx" x="616" y="7177" width="255" height="106" rx="5"/><text class="t" y="7195"><tspan x="623.5">通过学习让学生有丰富的生活常识、多文化背</tspan><tspan x="623.5" dy="15.55">景的积累，并形成正确人生观、价值观，有积</tspan><tspan x="623.5" dy="15.55">极的情感态度和跨文化的交际能力。同时培养</tspan><tspan x="623.5" dy="15.55">自主学习能力，积累学习方法。更重要的是培</tspan><tspan x="623.5" dy="15.55">养学会借的阅读理解能力，提高学生的应试水</tspan><tspan x="623.5" dy="15.55">平。 五、教学措施</tspan></text></g>
<g id="p5-b3c"><rect class="bx" x="616" y="7309" width="255" height="42" rx="5"/><text class="t" y="7327"><tspan x="623.5">a)让学生每天积累几个单词，利用"互测及教</tspan><tspan x="623.5" dy="15.55">师抽查"及时检查，保证效果并坚持下去。</tspan></text></g>
<g id="p5-b3d"><rect class="bx" x="616" y="7379" width="255" height="89" rx="5"/><text class="t" y="7397"><tspan x="623.5">b)实行过程性评价，调动学生积极性，通过不</tspan><tspan x="623.5" dy="15.55">同方式的检测，让进步的同学体会到成就感，</tspan><tspan x="623.5" dy="15.55">让落后的同学找出差距，感受压力。由此在班</tspan><tspan x="623.5" dy="15.55">里形成浓厚的学习氛围，培养学生健康向上的</tspan><tspan x="623.5" dy="15.55">人格和竞争意识。</tspan></text></g>
<g id="p5-b3e"><rect class="bx" x="616" y="7495" width="255" height="42" rx="5"/><text class="t" y="7513"><tspan x="623.5">C)关注学生的情感，营造宽松、和谐的教学</tspan><tspan x="623.5" dy="15.55">氛围。</tspan></text></g>
<g id="p5-b3f"><rect class="bx" x="616" y="7564" width="255" height="90" rx="5"/><text class="t" y="7582"><tspan x="623.5">d)在教学中根据目标并结合教学内容，创造性</tspan><tspan x="623.5" dy="15.55">地设计贴近学生实际的教学活动，吸引和组织</tspan><tspan x="623.5" dy="15.55">他们积极参与。学生通过思考、调查、讨论、</tspan><tspan x="623.5" dy="15.55">交流和合作等方式，学习和使用英语，完成学</tspan><tspan x="623.5" dy="15.55">习任务。</tspan></text></g>
<g id="p5-b3g"><rect class="bx" x="616" y="7681" width="255" height="42" rx="5"/><text class="t" y="7699"><tspan x="623.5">e)经常进行教学反思，适时调整教学方法，符</tspan><tspan x="623.5" dy="15.55">合学生的真实情况，利于学生的有效性学习。</tspan></text></g>
<g id="p5-b3h"><rect class="bx" x="616" y="7751" width="255" height="42" rx="5"/><text class="t" y="7769"><tspan x="623.5">f)加强集体备课，充分发挥老教师的经验和新</tspan><tspan x="623.5" dy="15.55">教师的，达到的教学效果。</tspan></text></g>

<!-- plan 2 -->
<g id="plan2"><rect class="mn" x="1542" y="2850" width="197" height="36" rx="6"/><text class="tm" x="1550" y="2874">高中英语本学期教学计划2</text></g>
<g id="p2-a"><rect class="bx" x="1761" y="2536" width="256" height="58" rx="5"/><text class="t" y="2554"><tspan x="1768.5">针对我校高一新生普遍英语底子差，基础薄的</tspan><tspan x="1768.5" dy="15.55">实际，坚持"夯实基础，狠抓双基，改进学法</tspan><tspan x="1768.5" dy="15.55">，激发兴趣，提高能力"的指导思想。</tspan></text></g>
<g id="p2-b"><rect class="bx" x="1761" y="2622" width="73" height="27" rx="5"/><text class="t" x="1768.5" y="2640">教学内容：</text></g>
<g id="p2-b1"><rect class="bx" x="1857" y="2622" width="144" height="27" rx="5"/><text class="t" x="1864.5" y="2640">高一(上)的12单元内容。</text></g>
<g id="p2-c"><rect class="bx" x="1761" y="3156" width="73" height="29" rx="5"/><text class="t" x="1768.5" y="3175">具体安排：</text></g>
<g id="p2-c1"><rect class="bx" x="1857" y="2676" width="255" height="135" rx="5"/><text class="t" y="2694"><tspan x="1864.5">1、对于高一(上)内容中的12单元，每一单元</tspan><tspan x="1864.5" dy="15.55">用8课时，新授5课时，练习2课时，阅读1课</tspan><tspan x="1864.5" dy="15.55">时，共用4个月的时间。2、为了使学生打牢</tspan><tspan x="1864.5" dy="15.55">基础不至于出现知识断层，本学期要有计划的</tspan><tspan x="1864.5" dy="15.55">把学生初中学过的但掌握不好的时态、句式、</tspan><tspan x="1864.5" dy="15.55">定语从句、状语从句、动词不定式以及部分掌</tspan><tspan x="1864.5" dy="15.55">握不好的词汇、短语、句型分插于12单元的</tspan><tspan x="1864.5" dy="15.55">新课教学中。</tspan></text></g>
<g id="p2-c2"><rect class="bx" x="1857" y="2839" width="255" height="89" rx="5"/><text class="t" y="2857"><tspan x="1864.5">3、认真研究新课程标准，尤其与旧大纲不同</tspan><tspan x="1864.5" dy="15.55">的地方，清楚哪些内容是新增加的，哪些内容</tspan><tspan x="1864.5" dy="15.55">是已经删掉的，哪些内容初中已经学的。认真</tspan><tspan x="1864.5" dy="15.55">研究新教材，在集体备课的基础上认真备课、</tspan><tspan x="1864.5" dy="15.55">上课，认真进行自习辅导和批改作业。</tspan></text></g>
<g id="p2-c3"><rect class="bx" x="1857" y="2955" width="255" height="75" rx="5"/><text class="t" y="2973"><tspan x="1864.5">4、为了减轻高三听力训练的压力，提高学生</tspan><tspan x="1864.5" dy="15.55">的听力水平，从高一就开始就对学生进行听力</tspan><tspan x="1864.5" dy="15.55">训练。除了利用课堂上的时间外，还坚持每周</tspan><tspan x="1864.5" dy="15.55">三次利用课余时间给学生集体放听力。</tspan></text></g>
<g id="p2-c4"><rect class="bx" x="1857" y="3056" width="255" height="90" rx="5"/><text class="t" y="3074"><tspan x="1864.5">5、单词一直是学生的难点、薄弱点，直接影</tspan><tspan x="1864.5" dy="15.55">响学生综合能力的提高，在教学中要重视词汇</tspan><tspan x="1864.5" dy="15.55">教学，狠抓单词的记忆与巩固以及对词汇的意</tspan><tspan x="1864.5" dy="15.55">义与用法的掌握。使学生掌握科学的单词记忆</tspan><tspan x="1864.5" dy="15.55">方法和养成勤查词典的习惯。</tspan></text></g>
<g id="p2-c5"><rect class="bx" x="1857" y="3172" width="255" height="73" rx="5"/><text class="t" y="3190"><tspan x="1864.5">6、坚持每周一次作文训练，训练题材、方法</tspan><tspan x="1864.5" dy="15.55">力求多样化，并能及时进行讲评。鼓励学生写</tspan><tspan x="1864.5" dy="15.55">英文日记，对个别英语特差的学生尽量多批改</tspan><tspan x="1864.5" dy="15.55">、多指导。</tspan></text></g>
<g id="p2-c6"><rect class="bx" x="1857" y="3272" width="255" height="89" rx="5"/><text class="t" y="3290"><tspan x="1864.5">7、阅读理解能力的培养是高中教学的重点，</tspan><tspan x="1864.5" dy="15.55">也是高考的重头戏。在单元教学中专门抽出一</tspan><tspan x="1864.5" dy="15.55">节课作为阅读课，材料为课外五篇课外阅读理</tspan><tspan x="1864.5" dy="15.55">解，并且有计划的指导学生掌握科学的.阅读</tspan><tspan x="1864.5" dy="15.55">方法。</tspan></text></g>
<g id="p2-c7"><rect class="bx" x="1857" y="3388" width="255" height="137" rx="5"/><text class="t" y="3406"><tspan x="1864.5">8、集体备课是提高教学质量和整体教学水平</tspan><tspan x="1864.5" dy="15.55">的有力保证，有利于经验丰富的教师与年轻教</tspan><tspan x="1864.5" dy="15.55">师互为补充、共同提高。坚持每周一次的集体</tspan><tspan x="1864.5" dy="15.55">备课，集体备课前先确定一名中心发言人，由</tspan><tspan x="1864.5" dy="15.55">中心发言人先确定下周所教单元的重点、难点</tspan><tspan x="1864.5" dy="15.55">及在高考中的比重及为完成教学内容所用的教</tspan><tspan x="1864.5" dy="15.55">法，然后全组人员共同探讨，最后确定下来。</tspan><tspan x="1864.5" dy="15.55">中心发言人的依次轮流，顺序为：</tspan></text></g>
<g id="p2-c8"><rect class="bx" x="1857" y="3552" width="255" height="90" rx="5"/><text class="t" y="3570"><tspan x="1864.5">9、坚持教学研究和相互听课，年轻教师要向</tspan><tspan x="1864.5" dy="15.55">老教师学习如何把握重点、难点和考点，老教</tspan><tspan x="1864.5" dy="15.55">师要向年轻教师学习如何灵活运用先进的教法</tspan><tspan x="1864.5" dy="15.55">。教师之间互相听课本学期每人不少于30节</tspan><tspan x="1864.5" dy="15.55">。</tspan></text></g>

<!-- plan 4 -->
<g id="plan4"><rect class="mn" x="1542" y="4505" width="196" height="35" rx="6"/><text class="tm" x="1550" y="4528">高中英语本学期教学计划4</text></g>
<g id="p4-l1"><rect class="bx" x="1761" y="3800" width="97" height="27" rx="5"/><text class="t" x="1768.5" y="3818">一、指导思想：</text></g>
<g id="p4-b1a"><rect class="bx" x="1882" y="3669" width="255" height="89" rx="5"/><text class="t" y="3687"><tspan x="1889.5">1、要面向全体学生，关注每个学生的情感，</tspan><tspan x="1889.5" dy="15.55">激发他们学习英语的兴趣，帮助他们建立学习</tspan><tspan x="1889.5" dy="15.55">的成就感和自信心，使他们在学习过程中发展</tspan><tspan x="1889.5" dy="15.55">综合语言运用能力，提高人文素养，增强实践</tspan><tspan x="1889.5" dy="15.55">能力，培养创新精神;</tspan></text></g>
<g id="p4-b1b"><rect class="bx" x="1882" y="3784" width="255" height="59" rx="5"/><text class="t" y="3802"><tspan x="1889.5">2、突出学生主体，尊重个体差异，让学生在</tspan><tspan x="1889.5" dy="15.55">老师的指导下构建知识，提高技能，活跃思维</tspan><tspan x="1889.5" dy="15.55">，展现个性，发展心智和拓展视野;</tspan></text></g>
<g id="p4-b1c"><rect class="bx" x="1882" y="3870" width="255" height="89" rx="5"/><text class="t" y="3888"><tspan x="1889.5">3、让学生在使用英语中学习英语，让学生成</tspan><tspan x="1889.5" dy="15.55">为good user而不仅仅是learner。让英语成</tspan><tspan x="1889.5" dy="15.55">为学生学习生活中最实用的工具而非累赘，让</tspan><tspan x="1889.5" dy="15.55">他们在使用和学习英语的过程中，体味到轻松</tspan><tspan x="1889.5" dy="15.55">和成功的快乐，而不是无尽的担忧和恐惧。</tspan></text></g>
<g id="p4-l2"><rect class="bx" x="1761" y="4034" width="110" height="26" rx="5"/><text class="t" x="1768.5" y="4052">二、学生情况分析</text></g>
<g id="p4-b2"><rect class="bx" x="1894" y="3986" width="255" height="121" rx="5"/><text class="t" y="4004"><tspan x="1901.5">今年任教的一个班英语教学，学生的基本情况</tspan><tspan x="1901.5" dy="15.55">较差，部分学生已经对英语失去了信心，还有</tspan><tspan x="1901.5" dy="15.55">一部分学生觉得英语越来越难，渐渐力不从心</tspan><tspan x="1901.5" dy="15.55">了，不感兴趣了，上课的注意力也不集中了，</tspan><tspan x="1901.5" dy="15.55">发言也不是很活跃。针对这种情况，教学的时</tspan><tspan x="1901.5" dy="15.55">候需要注意在备课中增加趣味性，以此来提高</tspan><tspan x="1901.5" dy="15.55">学生对英语学习的兴趣。</tspan></text></g>
<g id="p4-l3"><rect class="bx" x="1761" y="4449" width="86" height="27" rx="5"/><text class="t" x="1768.5" y="4467">三、教材分析</text></g>
<g id="p4-l3a"><rect class="bx" x="1869" y="4234" width="73" height="28" rx="5"/><text class="t" x="1876.5" y="4253">教学目的：</text></g>
<g id="p4-t1"><rect class="bx" x="1965" y="4134" width="254" height="90" rx="5"/><text class="t" y="4152"><tspan x="1972.5">1.要使学生受到听、说、读、写、英语的训练</tspan><tspan x="1972.5" dy="15.55">，掌握最基础的语言知识和语言技能以及培养</tspan><tspan x="1972.5" dy="15.55">初步援用英语交际的能力;养成良好的外语学</tspan><tspan x="1972.5" dy="15.55">习习惯，掌握学习外语的基本方法;为进一步</tspan><tspan x="1972.5" dy="15.55">学习和运用英语打下扎实的基础。</tspan></text></g>
<g id="p4-t2"><rect class="bx" x="1965" y="4250" width="191" height="27" rx="5"/><text class="t" x="1972.5" y="4268">2.使学生明确学习英语的目的性，</text></g>
<g id="p4-t3"><rect class="bx" x="1965" y="4304" width="252" height="27" rx="5"/><text class="t" x="1972.5" y="4322">3.培养初步运用英语交际的能力和自学能力。</text></g>
<g id="p4-l3b"><rect class="bx" x="1869" y="4656" width="256" height="42" rx="5"/><text class="t" y="4674"><tspan x="1876.5">具体目标：针对本班实际情况，我制定了以下</tspan><tspan x="1876.5" dy="15.55">二方面的教学目标：</tspan></text></g>
<g id="p4-j"><rect class="bx" x="2148" y="4481" width="82" height="28" rx="5"/><text class="t" x="2155.5" y="4500">1.语言技能：</text></g>
<g id="p4-j1"><rect class="bx" x="2252" y="4358" width="255" height="42" rx="5"/><text class="t" y="4376"><tspan x="2259.5">听：1)、能听懂课文大致内容;2)、能抓住简</tspan><tspan x="2259.5" dy="15.55">单语段中的观点;</tspan></text></g>
<g id="p4-j2"><rect class="bx" x="2252" y="4427" width="255" height="43" rx="5"/><text class="t" y="4445"><tspan x="2259.5">说：1)、能使用恰当的语调和节奏表达课文大</tspan><tspan x="2259.5" dy="15.55">意; 2)、能经过准备就一般话题作短暂表达</tspan></text></g>
<g id="p4-j3"><rect class="bx" x="2252" y="4496" width="255" height="59" rx="5"/><text class="t" y="4514"><tspan x="2259.5">读：1)、能理解阅读材料中不同的观点和态度</tspan><tspan x="2259.5" dy="15.55">; 2)、能识别不同文体的特征; 3)、能通过分析</tspan><tspan x="2259.5" dy="15.55">句子结构理解难句和长句;</tspan></text></g>
<g id="p4-j4"><rect class="bx" x="2252" y="4582" width="255" height="59" rx="5"/><text class="t" y="4600"><tspan x="2259.5">写：1)、能简单写出连贯且结构较完整的句子</tspan><tspan x="2259.5" dy="15.55">，2)、能默写课文;3)、能在写作文中基本做</tspan><tspan x="2259.5" dy="15.55">到文体较规范语句较通顺;</tspan></text></g>
<g id="p4-k"><rect class="bx" x="2148" y="4847" width="82" height="26" rx="5"/><text class="t" x="2155.5" y="4865">2.语言知识：</text></g>
<g id="p4-k1"><rect class="bx" x="2252" y="4667" width="255" height="58" rx="5"/><text class="t" y="4685"><tspan x="2259.5">语音：1)、逐步做到语音、语调自然、得体;2</tspan><tspan x="2259.5" dy="15.55">)、根据语音辨别和书写不太熟悉的单词或简</tspan><tspan x="2259.5" dy="15.55">单语句。</tspan></text></g>
<g id="p4-k2"><rect class="bx" x="2252" y="4752" width="255" height="59" rx="5"/><text class="t" y="4770"><tspan x="2259.5">词汇：1)、运用词汇描述比较复杂的事物、行</tspan><tspan x="2259.5" dy="15.55">为和特征，说明概念等;2)、尽可能学会使用</tspan><tspan x="2259.5" dy="15.55">规定的习惯用语或固定搭配。</tspan></text></g>
<g id="p4-k3"><rect class="bx" x="2252" y="4836" width="255" height="107" rx="5"/><text class="t" y="4854"><tspan x="2259.5">语法：1)、进一步掌握描述时间、地点、方位</tspan><tspan x="2259.5" dy="15.55">的表达方式; 2)、进一步理解、掌握比较人、</tspan><tspan x="2259.5" dy="15.55">物体及事物的表达方式;3)、使用适当的语言</tspan><tspan x="2259.5" dy="15.55">形式进行描述和表达观点、态度、情感等; 4)</tspan><tspan x="2259.5" dy="15.55">、学习、掌握基本语篇知识并根据特定目的有</tspan><tspan x="2259.5" dy="15.55">效地组织信息。</tspan></text></g>
<g id="p4-k4"><rect class="bx" x="2252" y="4969" width="255" height="106" rx="5"/><text class="t" y="4987"><tspan x="2259.5">功能：1)、掌握询问信息、谈论物件，表示否</tspan><tspan x="2259.5" dy="15.55">定，表示不肯定，表示发生在某一过去时间之</tspan><tspan x="2259.5" dy="15.55">前的行为。2)、灵活运用已经学过的常用功能</tspan><tspan x="2259.5" dy="15.55">项目，进一步学习并掌握如何描写与分类，描</tspan><tspan x="2259.5" dy="15.55">写物体，和叙述等语言功能项目; 3)、恰当理</tspan><tspan x="2259.5" dy="15.55">解和表达道歉和应答，忠告等交际功能;</tspan></text></g>
<g id="p4-l4"><rect class="bx" x="1761" y="5217" width="110" height="27" rx="5"/><text class="t" x="1768.5" y="5235">四、教学具体措施</text></g>
<g id="p4-m1"><rect class="bx" x="1894" y="5101" width="255" height="43" rx="5"/><text class="t" y="5119"><tspan x="1901.5">1、摸清学生基本情况，逐步激励学生对英语</tspan><tspan x="1901.5" dy="15.55">产生学习兴趣。</tspan></text></g>
<g id="p4-m2"><rect class="bx" x="1894" y="5171" width="255" height="42" rx="5"/><text class="t" y="5189"><tspan x="1901.5">2、重视课堂教学质量，逐步提高学生英语交</tspan><tspan x="1901.5" dy="15.55">际能力。</tspan></text></g>
<g id="p4-m3"><rect class="bx" x="1894" y="5240" width="255" height="42" rx="5"/><text class="t" y="5258"><tspan x="1901.5">3、有意识培养学生听力、表述、朗读、书写</tspan><tspan x="1901.5" dy="15.55">和作业的基本能力。</tspan></text></g>
<g id="p4-m4"><rect class="bx" x="1894" y="5309" width="255" height="58" rx="5"/><text class="t" y="5327"><tspan x="1901.5">4、重视思维过程系统编排，由浅入深，由易</tspan><tspan x="1901.5" dy="15.55">到难，由已知到未知，循序渐进，点面结合，</tspan><tspan x="1901.5" dy="15.55">逐步扩展，循环往现，以加深影响。</tspan></text></g>

<!-- related -->
<g id="related"><rect class="mn" x="1542" y="5621" width="259" height="58" rx="6"/><text class="tm" x="1555" y="5644.5">高中英语本学期教学计划相关文章</text></g>
<g id="r1"><rect class="bx" x="1823" y="5394" width="200" height="27" rx="5"/><text class="t" x="1830.5" y="5412">★ 高中英语第一学期教学计划2021</text></g>
<g id="r2"><rect class="bx" x="1823" y="5448" width="164" height="27" rx="5"/><text class="t" x="1830.5" y="5466">★ 高中英语的教学计划2021</text></g>
<g id="r3"><rect class="bx" x="1823" y="5502" width="184" height="27" rx="5"/><text class="t" x="1830.5" y="5520">★ 高中英语教师新学期工作计划</text></g>
<g id="r4"><rect class="bx" x="1823" y="5555" width="176" height="28" rx="5"/><text class="t" x="1830.5" y="5574">★ 高中英语复学教学计划2021</text></g>
<g id="r5"><rect class="bx" x="1823" y="5609" width="200" height="28" rx="5"/><text class="t" x="1830.5" y="5628">★ 高中英语第二学期教学计划2021</text></g>
<g id="r6"><rect class="bx" x="1823" y="5663" width="188" height="28" rx="5"/><text class="t" x="1830.5" y="5682">★ 新学期教学计划高中英语2021</text></g>
<g id="r7"><rect class="bx" x="1823" y="5716" width="148" height="29" rx="5"/><text class="t" x="1830.5" y="5735">★ 高中英语学期教学总结</text></g>
<g id="r8"><rect class="bx" x="1823" y="5770" width="200" height="29" rx="5"/><text class="t" x="1830.5" y="5789">★ 新人教版高中英语教学计划2021</text></g>
<g id="r9"><rect class="bx" x="1823" y="5825" width="176" height="28" rx="5"/><text class="t" x="1830.5" y="5844">★ 高中英语一周教学计划2021</text></g>
<g id="r10"><rect class="bx" x="1823" y="5879" width="212" height="27" rx="5"/><text class="t" x="1830.5" y="5897">★ 高中英语高三下学期教学计划2021</text></g>
</g>
</svg>
